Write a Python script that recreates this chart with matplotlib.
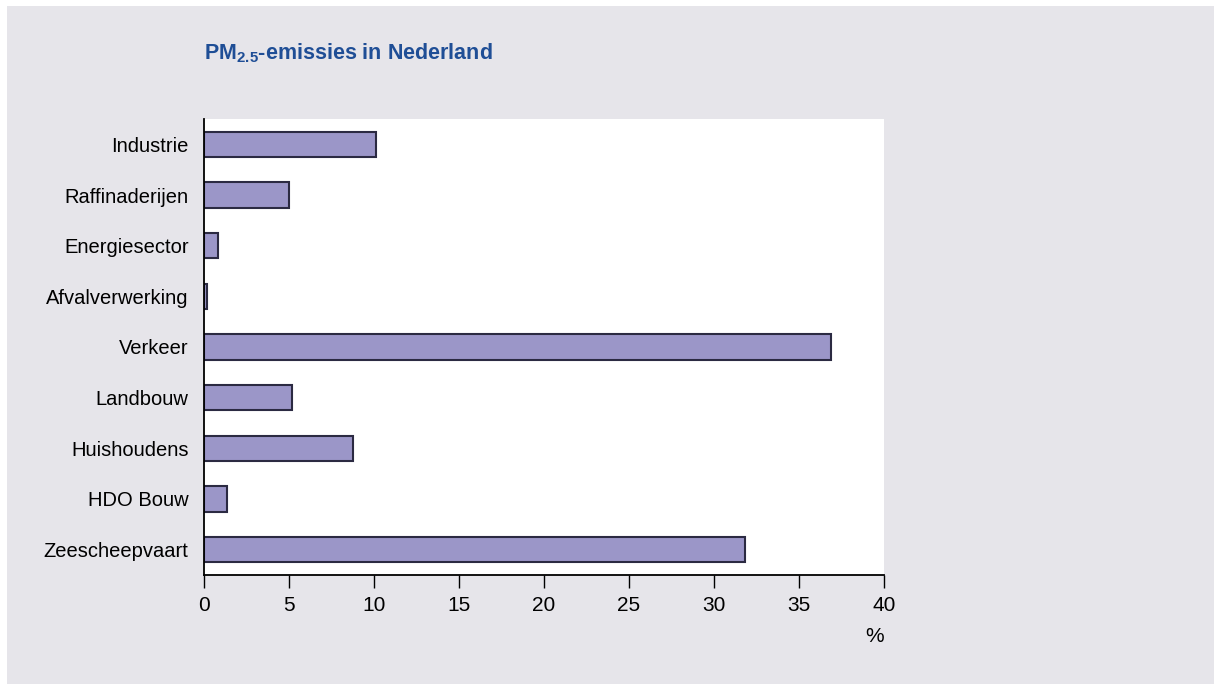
import matplotlib.pyplot as plt
from matplotlib.patches import Rectangle
from matplotlib import font_manager

# PM2.5 emissions per sector (%)
sectors = ['Industrie', 'Raffinaderijen', 'Energiesector', 'Afvalverwerking',
           'Verkeer', 'Landbouw', 'Huishoudens', 'HDO Bouw', 'Zeescheepvaart']
shares = [10.1, 5.0, 0.8, 0.2, 36.9, 5.2, 8.75, 1.35, 31.8]
xticks = [0, 5, 10, 15, 20, 25, 30, 35, 40]

names = {f.name for f in font_manager.fontManager.ttflist}
font = 'Liberation Sans Narrow' if 'Liberation Sans Narrow' in names else 'Liberation Sans'
plt.rcParams['font.family'] = [font, 'DejaVu Sans']

W, H = 1214, 684
fig = plt.figure(figsize=(W / 100, H / 100), dpi=100)
fig.patches.append(Rectangle((7 / W, 0), 1 - 7 / W, 1 - 6 / H, transform=fig.transFigure,
                             facecolor='#e6e5ea', edgecolor='none', zorder=-10))

ax = fig.add_axes([204 / W, 1 - 575 / H, (884 - 204) / W, (575 - 119) / H])
ax.set_facecolor('white')

ypos = list(range(len(sectors)))
ax.barh(ypos, shares, height=0.5, color='#9b96c8', edgecolor='#2b2a42', linewidth=1.5)

ax.set_ylim(len(sectors) - 0.5, -0.5)
ax.set_xlim(0, 40)
ax.set_yticks(ypos)
ax.set_yticklabels(sectors, fontsize=14.5)
ax.set_xticks(xticks)
ax.set_xticklabels([str(t) for t in xticks], fontsize=15)
ax.tick_params(axis='y', length=0, pad=11)
ax.tick_params(axis='x', length=9, width=1, direction='out', pad=6)

for s in ['top', 'right']:
    ax.spines[s].set_visible(False)
for s in ['left', 'bottom']:
    ax.spines[s].set_linewidth(1.3)

fig.text(875 / W, 1 - 637 / H, '%', fontsize=15, ha='center', va='center')
fig.text(204 / W, 1 - 53 / H, r'PM$_{\mathregular{2.5}}$-emissies in Nederland',
         fontsize=15.5, fontweight='bold', color='#1f4e96', ha='left', va='center')

fig.savefig('out.png', dpi=100)
